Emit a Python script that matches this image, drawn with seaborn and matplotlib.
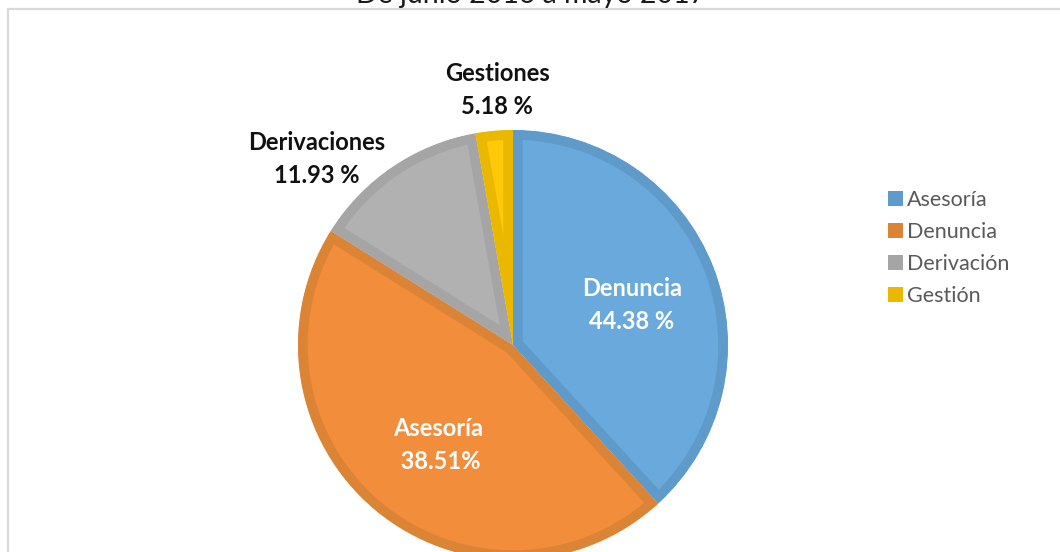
import matplotlib
matplotlib.use("Agg")
import matplotlib.pyplot as plt
from matplotlib.patches import Patch, Rectangle
import seaborn as sns

# wedge sizes (the printed labels differ from the drawn shares)
categories = ["Asesoría", "Denuncia", "Derivación", "Gestión"]
shares = [38.2, 45.7, 13.3, 2.8]
label_texts = ["Denuncia\n44.38 %", "Asesoría\n 38.51%", "Derivaciones\n11.93 %", "Gestiones\n5.18 %"]
title = "De junio 2016 a mayo 2017"

fill_colors = ["#6AA9DB", "#F18D3B", "#B1B1B1", "#FFC90A"]
edge_colors = ["#5E9BCB", "#DC8436", "#A5A5A5", "#EBB800"]

sns.set_theme(style="white")
plt.rcParams["font.family"] = ["Lato", "DejaVu Sans"]

fig = plt.figure(figsize=(10.6, 5.52), dpi=100)

# light frame of the chart area (cut off right and bottom)
fig.patches.append(Rectangle((8 / 1060, -0.1), 1.2, (552 - 9) / 552 + 0.1,
                             transform=fig.transFigure, fill=False,
                             edgecolor="#D9D9D9", linewidth=1.6, zorder=0))

fig.text(531 / 1060, (552 - 3) / 552, title, ha="center", va="baseline",
         fontsize=20.5, color="#1a1a1a")

cx, cy, r = 513, 345, 215
ax = fig.add_axes([(cx - r) / 1060, (552 - cy - r) / 552, 2 * r / 1060, 2 * r / 552])
wedges, _ = ax.pie(shares, colors=fill_colors, startangle=90, counterclock=False,
                   radius=1)
for w, ec in zip(wedges, edge_colors):
    w.set_edgecolor(ec)
    w.set_linewidth(14)
    w.set_clip_on(True)
    w.set_clip_path(w)
ax.set_xlim(-1, 1)
ax.set_ylim(-1, 1)
ax.axis("off")

# label positions (data units of the pie axes)
label_pos = [(0.553, 0.186), (-0.349, -0.465), (-0.912, 0.865), (-0.074, 1.186)]
label_colors = ["white", "white", "#111111", "#111111"]
for txt, (x, y), c in zip(label_texts, label_pos, label_colors):
    ax.text(x, y, txt, ha="center", va="center", fontsize=17, fontweight="bold",
            color=c, linespacing=1.5, clip_on=False)

handles = [Patch(facecolor=c, edgecolor="none") for c in edge_colors]
fig.legend(handles, categories, loc="upper left",
           bbox_to_anchor=(879 / 1060, (552 - 181) / 552), frameon=False,
           fontsize=15.5, handlelength=0.7, handleheight=0.7, handletextpad=0.2,
           labelspacing=0.56, borderaxespad=0, labelcolor="#595959")

fig.savefig("out.png", dpi=100)
